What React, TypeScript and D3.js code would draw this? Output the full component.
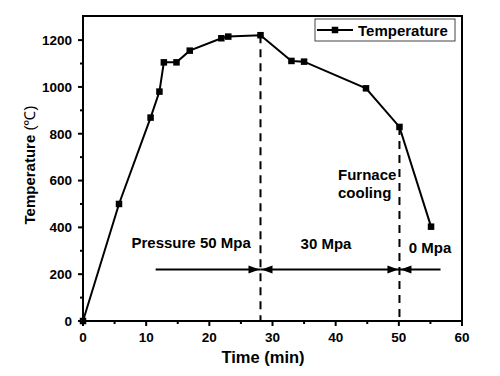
import React from "react";
import * as d3 from "d3";

const timeMin = [0, 5.7, 10.7, 12.1, 12.8, 14.8, 16.9, 21.9, 23.0, 28.1, 33.0, 35.0, 44.8, 50.1, 55.1];
const temperature = [0, 500, 869, 980, 1105, 1105, 1155, 1208, 1215, 1221, 1111, 1108, 994, 829, 403];
const xTicks = [0, 10, 20, 30, 40, 50, 60];
const yTicks = [0, 200, 400, 600, 800, 1000, 1200];
const xMinor = [5, 15, 25, 35, 45, 55];
const yMinor = [100, 300, 500, 700, 900, 1100];
const dashedAt = [9, 13]; // indices of points where dashed lines drop
const arrowY = 220;
const arrowSegs = [
  { from: 11.5, to: 28.1, startHead: false, endHead: true },
  { from: 28.1, to: 50.1, startHead: true, endHead: true },
  { from: 56.6, to: 50.1, startHead: false, endHead: true },
];

const W = 500, H = 376;
const L = 83, T = 16, R = 462, B = 321;
const FONT = "'Liberation Sans', Arial, sans-serif";

export default function App() {
  const x = d3.scaleLinear().domain([0, 60]).range([L, R]);
  const y = d3.scaleLinear().domain([0, 1303]).range([B, T]);
  const pts = timeMin.map((t, i) => [t, temperature[i]] as [number, number]);
  const line = d3.line<[number, number]>().x(d => x(d[0])).y(d => y(d[1]));
  const ms = 6.5;

  const head = (tipX: number, dir: number, key: string) => {
    const ty = y(arrowY);
    const len = 11, hw = 4;
    return (
      <path key={key} d={`M${tipX},${ty} L${tipX - dir * len},${ty - hw} L${tipX - dir * len},${ty + hw} Z`} fill="#000" />
    );
  };

  return (
    <svg width={W} height={H} style={{ position: "absolute", left: 0, top: 0, background: "#fff" }} fontFamily={FONT}>
      <rect x={0} y={0} width={W} height={H} fill="#fff" />
      {/* dashed verticals */}
      {dashedAt.map(i => (
        <line key={"d" + i} x1={x(timeMin[i])} x2={x(timeMin[i])} y1={y(temperature[i])} y2={y(0)}
          stroke="#000" strokeWidth={2} strokeDasharray="8,6" />
      ))}
      {/* arrows */}
      {arrowSegs.map((s, i) => {
        const dir = s.to > s.from ? 1 : -1;
        return (
          <g key={"a" + i}>
            <line x1={x(s.from)} x2={x(s.to)} y1={y(arrowY)} y2={y(arrowY)} stroke="#000" strokeWidth={2} />
            {s.endHead && head(x(s.to) - dir * 1, dir, "e")}
            {s.startHead && head(x(s.from) + dir * 1, -dir, "s")}
          </g>
        );
      })}
      {/* data line */}
      <path d={line(pts) || ""} fill="none" stroke="#000" strokeWidth={2} />
      {pts.map((p, i) => (
        <rect key={"m" + i} x={x(p[0]) - ms / 2} y={y(p[1]) - ms / 2} width={ms} height={ms} fill="#000" />
      ))}
      {/* frame */}
      <rect x={L} y={T} width={R - L} height={B - T} fill="none" stroke="#000" strokeWidth={2} />
      {/* x ticks */}
      {xTicks.map(t => (
        <g key={"xt" + t}>
          <line x1={x(t)} x2={x(t)} y1={B} y2={B + 5} stroke="#000" strokeWidth={2} />
          <text x={x(t)} y={342} textAnchor="middle" fontSize={13.5} fontWeight="bold">{t}</text>
        </g>
      ))}
      {xMinor.map(t => (
        <line key={"xm" + t} x1={x(t)} x2={x(t)} y1={B} y2={B + 3} stroke="#000" strokeWidth={2} />
      ))}
      {yTicks.map(t => (
        <g key={"yt" + t}>
          <line x1={L} x2={L - 5} y1={y(t)} y2={y(t)} stroke="#000" strokeWidth={2} />
          <text x={72} y={y(t) + 4.8} textAnchor="end" fontSize={13.5} fontWeight="bold">{t}</text>
        </g>
      ))}
      {yMinor.map(t => (
        <line key={"ym" + t} x1={L} x2={L - 3} y1={y(t)} y2={y(t)} stroke="#000" strokeWidth={2} />
      ))}
      {/* axis titles */}
      <text x={263} y={363} textAnchor="middle" fontSize={16.5} fontWeight="bold">Time (min)</text>
      <text transform="translate(35,165) rotate(-90)" textAnchor="middle" fontSize={15} fontWeight="bold">
        Temperature <tspan fontWeight="normal">(℃)</tspan>
      </text>
      {/* annotations */}
      <text x={131.5} y={248} fontSize={15} fontWeight="bold">Pressure 50 Mpa</text>
      <text x={326} y={249} textAnchor="middle" fontSize={15} fontWeight="bold">30 Mpa</text>
      <text x={430} y={252.5} textAnchor="middle" fontSize={15} fontWeight="bold">0 Mpa</text>
      <text x={338} y={180} fontSize={15} fontWeight="bold">Furnace</text>
      <text x={338} y={198} fontSize={15} fontWeight="bold">cooling</text>
      {/* legend */}
      <rect x={315} y={19} width={140} height={22} fill="#fff" stroke="#444" strokeWidth={1} />
      <line x1={317} x2={353} y1={30} y2={30} stroke="#000" strokeWidth={2} />
      <rect x={335 - ms / 2} y={30 - ms / 2} width={ms} height={ms} fill="#000" />
      <text x={358} y={35.5} fontSize={15} fontWeight="bold">Temperature</text>
    </svg>
  );
}
